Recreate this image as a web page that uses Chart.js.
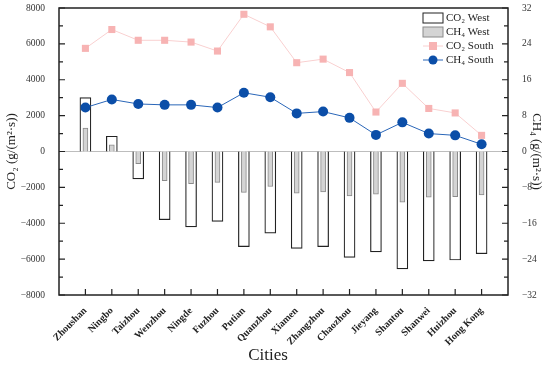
<!DOCTYPE html>
<html>
<head>
<meta charset="utf-8">
<script src="https://cdn.jsdelivr.net/npm/chart.js@4"></script>
<style>
  html, body { margin: 0; padding: 0; background: #fff; }
  #wrap { width: 550px; height: 367px; }
</style>
</head>
<body>
<div id="wrap"><canvas id="chart" width="550" height="367"></canvas></div>
<script>
// data
const cities = ['Zhoushan', 'Ningbo', 'Taizhou', 'Wenzhou', 'Ningde', 'Fuzhou', 'Putian', 'Quanzhou',
    'Xiamen', 'Zhangzhou', 'Chaozhou', 'Jieyang', 'Shantou', 'Shanwei', 'Huizhou', 'Hong Kong'];
const co2West = [3000, 850, -1530, -3800, -4200, -3900, -5300, -4550,
    -5400, -5300, -5900, -5600, -6550, -6100, -6050, -5700];
const ch4West = [5.2, 1.5, -2.7, -6.5, -7.2, -6.9, -9.1, -7.8,
    -9.3, -9.0, -9.9, -9.5, -11.3, -10.2, -10.1, -9.7];
const co2South = [5750, 6800, 6200, 6200, 6100, 5600, 7650, 6950,
    4950, 5150, 4400, 2200, 3800, 2400, 2150, 900];
const ch4South = [9.8, 11.6, 10.6, 10.4, 10.4, 9.8, 13.1, 12.1,
    8.5, 8.9, 7.5, 3.7, 6.5, 4.0, 3.6, 1.6];
const leftTicks = [-8000, -6000, -4000, -2000, 0, 2000, 4000, 6000, 8000];
const rightTicks = [-32, -24, -16, -8, 0, 8, 16, 24, 32];

const serif = '"Liberation Serif", "Times New Roman", "DejaVu Serif", serif';
const pad = arr => [null, ...arr, null];
const labels = ['', ...cities, ''];
const fmt = v => v < 0 ? '\u2212' + Math.abs(v) : String(v);

// frame, inward ticks, zero line, axis titles and legend
const decor = {
    id: 'decor',
    beforeDatasetsDraw(chart) {
        const { ctx, chartArea: a, scales } = chart;
        const y0 = scales.y.getPixelForValue(0);
        ctx.save();
        ctx.strokeStyle = '#bdbdbd';
        ctx.lineWidth = 1;
        ctx.beginPath();
        ctx.moveTo(a.left, y0);
        ctx.lineTo(a.right, y0);
        ctx.stroke();
        ctx.restore();
    },
    afterDraw(chart) {
        const { ctx, chartArea: a, scales } = chart;
        ctx.save();
        ctx.strokeStyle = '#222';
        ctx.lineWidth = 1.5;
        ctx.strokeRect(a.left, a.top, a.right - a.left, a.bottom - a.top);

        // inward ticks
        ctx.lineWidth = 1.2;
        ctx.beginPath();
        scales.y.ticks.forEach((t, i) => {
            const py = scales.y.getPixelForTick(i);
            const len = leftTicks.includes(t.value) ? 6 : 4;
            ctx.moveTo(a.left, py);
            ctx.lineTo(a.left + len, py);
        });
        scales.y1.ticks.forEach((t, i) => {
            const py = scales.y1.getPixelForTick(i);
            const len = rightTicks.includes(t.value) ? 6 : 4;
            ctx.moveTo(a.right, py);
            ctx.lineTo(a.right - len, py);
        });
        for (let i = 1; i <= cities.length; i++) {
            const px = scales.x.getPixelForValue(i);
            ctx.moveTo(px, a.bottom);
            ctx.lineTo(px, a.bottom - 6);
        }
        ctx.stroke();

        // axis titles
        const midY = (a.top + a.bottom) / 2;
        ctx.fillStyle = '#222';
        ctx.textAlign = 'center';
        ctx.textBaseline = 'middle';
        ctx.font = '17px ' + serif;
        ctx.fillText('Cities', 268, 356);

        ctx.font = '13px ' + serif;
        ctx.save();
        ctx.translate(12, midY);
        ctx.rotate(-Math.PI / 2);
        ctx.fillText('CO\u2082 (g/(m\u00b2\u00b7s))', 0, 0);
        ctx.restore();
        ctx.save();
        ctx.translate(536, midY);
        ctx.rotate(Math.PI / 2);
        ctx.fillText('CH\u2084 (g/(m\u00b2\u00b7s))', 0, 0);
        ctx.restore();

        // legend
        const items = [
            { text: 'CO\u2082 West', kind: 'box', fill: '#ffffff', stroke: '#222' },
            { text: 'CH\u2084 West', kind: 'box', fill: '#d4d4d4', stroke: '#8a8a8a' },
            { text: 'CO\u2082 South', kind: 'square', color: '#f7b3b3', line: '#f9d0d0' },
            { text: 'CH\u2084 South', kind: 'circle', color: '#0b4ea8', line: '#2a66b8' }
        ];
        const sx = 423, sw = 20, ty0 = 18, dy = 14;
        ctx.font = '11px ' + serif;
        ctx.textAlign = 'left';
        items.forEach((it, i) => {
            const cy = ty0 + i * dy;
            if (it.kind === 'box') {
                ctx.fillStyle = it.fill;
                ctx.fillRect(sx, cy - 5, sw, 10);
                ctx.strokeStyle = it.stroke;
                ctx.lineWidth = 1;
                ctx.strokeRect(sx, cy - 5, sw, 10);
            } else {
                ctx.strokeStyle = it.line;
                ctx.lineWidth = 1;
                ctx.beginPath();
                ctx.moveTo(sx, cy);
                ctx.lineTo(sx + sw, cy);
                ctx.stroke();
                ctx.fillStyle = it.color;
                if (it.kind === 'square') {
                    ctx.fillRect(sx + sw / 2 - 4, cy - 4, 8, 8);
                } else {
                    ctx.beginPath();
                    ctx.arc(sx + sw / 2, cy, 4.5, 0, Math.PI * 2);
                    ctx.fill();
                }
            }
            ctx.fillStyle = '#222';
            ctx.fillText(it.text, sx + sw + 3, cy);
        });
        ctx.restore();
    }
};

const ctx = document.getElementById('chart').getContext('2d');
new Chart(ctx, {
    type: 'bar',
    data: {
        labels: labels,
        datasets: [
            {
                type: 'line',
                label: 'CH\u2084 South',
                data: pad(ch4South),
                yAxisID: 'y1',
                borderColor: '#2a66b8',
                backgroundColor: '#0b4ea8',
                borderWidth: 1,
                pointStyle: 'circle',
                pointRadius: 5,
                pointBorderWidth: 0,
                order: 1
            },
            {
                type: 'line',
                label: 'CO\u2082 South',
                data: pad(co2South),
                yAxisID: 'y',
                borderColor: '#f9d0d0',
                backgroundColor: '#f7b3b3',
                borderWidth: 1,
                pointStyle: 'rect',
                pointRadius: 5,
                pointBorderWidth: 0,
                order: 2
            },
            {
                label: 'CH\u2084 West',
                data: pad(ch4West),
                yAxisID: 'y1',
                backgroundColor: '#d4d4d4',
                borderColor: '#8a8a8a',
                borderWidth: 1,
                barThickness: 5,
                grouped: false,
                order: 3
            },
            {
                label: 'CO\u2082 West',
                data: pad(co2West),
                yAxisID: 'y',
                backgroundColor: '#ffffff',
                borderColor: '#222',
                borderWidth: 1.2,
                barThickness: 11,
                grouped: false,
                order: 4
            }
        ]
    },
    options: {
        responsive: false,
        animation: false,
        layout: { padding: { top: 8, left: 0, right: 0, bottom: 0 } },
        plugins: {
            legend: { display: false },
            tooltip: { enabled: false }
        },
        scales: {
            x: {
                offset: false,
                grid: { display: false },
                border: { display: false },
                ticks: {
                    autoSkip: false,
                    maxRotation: 45,
                    minRotation: 45,
                    padding: 2,
                    color: '#222',
                    font: { family: serif, size: 10, weight: 'bold' }
                },
                afterFit: s => { s.height = 72; s.paddingLeft = 0; s.paddingRight = 0; }
            },
            y: {
                position: 'left',
                min: -8000,
                max: 8000,
                grid: { display: false },
                border: { display: false },
                ticks: {
                    stepSize: 1000,
                    autoSkip: false,
                    padding: 6,
                    color: '#333',
                    font: { family: serif, size: 9.5 },
                    callback: v => leftTicks.includes(v) ? fmt(v) : ''
                },
                afterFit: s => { s.width = 59; s.paddingTop = 0; s.paddingBottom = 0; }
            },
            y1: {
                position: 'right',
                min: -32,
                max: 32,
                grid: { display: false },
                border: { display: false },
                ticks: {
                    stepSize: 4,
                    autoSkip: false,
                    padding: 6,
                    color: '#333',
                    font: { family: serif, size: 9.5 },
                    callback: v => rightTicks.includes(v) ? fmt(v) : ''
                },
                afterFit: s => { s.width = 42; s.paddingTop = 0; s.paddingBottom = 0; }
            }
        }
    },
    plugins: [decor]
});
</script>
</body>
</html>
